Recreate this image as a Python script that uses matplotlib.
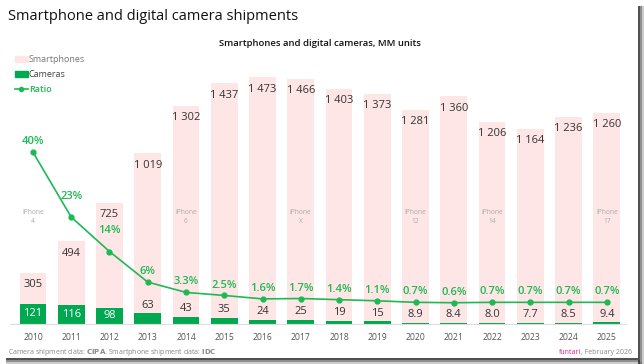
import matplotlib
matplotlib.use("Agg")
import matplotlib.pyplot as plt
from matplotlib.patches import Patch, Rectangle
from matplotlib.lines import Line2D
import numpy as np

plt.rcParams['font.family'] = ['Open Sans', 'DejaVu Sans']

years = ['2010', '2011', '2012', '2013', '2014', '2015', '2016', '2017',
         '2018', '2019', '2020', '2021', '2022', '2023', '2024', '2025']
smartphones = [305, 494, 725, 1019, 1302, 1437, 1473, 1466,
               1403, 1373, 1281, 1360, 1206, 1164, 1236, 1260]
cameras = [121, 116, 98, 63, 43, 35, 24, 25,
           19, 15, 8.9, 8.4, 8.0, 7.7, 8.5, 9.4]
camera_labels = ['121', '116', '98', '63', '43', '35', '24', '25',
                 '19', '15', '8.9', '8.4', '8.0', '7.7', '8.5', '9.4']
ratio = [40, 23, 14, 6, 3.3, 2.5, 1.6, 1.7, 1.4, 1.1, 0.7, 0.6, 0.7, 0.7, 0.7, 0.7]
ratio_labels = ['40%', '23%', '14%', '6%', '3.3%', '2.5%', '1.6%', '1.7%',
                '1.4%', '1.1%', '0.7%', '0.6%', '0.7%', '0.7%', '0.7%', '0.7%']
iphone_years = ['2010', '2014', '2017', '2020', '2022', '2025']
iphone_models = ['4', '6', 'X', '12', '14', '17']

PINK = '#FFE6E6'
GREEN = '#00A94F'
LGREEN = '#1DB954'

W, H = 644, 364
fig = plt.figure(figsize=(W / 100, H / 100), dpi=100)
fig.patch.set_facecolor('white')

ax = fig.add_axes([10 / W, (H - 324) / H, (626 - 10) / W, (324 - 57) / H])
x = np.arange(len(years))
ax.bar(x, smartphones, width=0.7, color=PINK, zorder=1)
ax.bar(x, cameras, width=0.7, color=GREEN, zorder=2)
ax.set_xlim(-0.6, len(years) - 0.5)
ax.set_ylim(0, 1595)
for s in ['top', 'right', 'left']:
    ax.spines[s].set_visible(False)
ax.spines['bottom'].set_color('#dddddd')
ax.spines['bottom'].set_linewidth(0.8)
ax.set_yticks([])
ax.set_xticks(x)
ax.set_xticklabels(years, fontsize=6.2, color='#555555')
ax.tick_params(axis='x', length=0, pad=6.5)

for i, v in enumerate(smartphones):
    ax.annotate(f"{v:,}".replace(',', ' '), (x[i], v), xytext=(0, -8.5),
                textcoords='offset points', ha='center', va='center',
                fontsize=8, color='#333333', zorder=5)
for i, v in enumerate(cameras):
    if v > 90:
        ax.annotate(camera_labels[i], (x[i], v / 2), ha='center', va='center',
                    fontsize=8, color='white', zorder=5)
    else:
        ax.annotate(camera_labels[i], (x[i], v), xytext=(0, 6),
                    textcoords='offset points', ha='center', va='center',
                    fontsize=8, color='#333333', zorder=5)

for yr, m in zip(iphone_years, iphone_models):
    i = years.index(yr)
    ax.text(x[i], 640, f"iPhone\n{m}", ha='center', va='center',
            fontsize=4.8, color='#aaaaaa', linespacing=1.3, zorder=5)

ax2 = ax.twinx()
ax2.set_ylim(-4.97, 64.9)
ax2.set_axis_off()
ax2.plot(x, ratio, color=LGREEN, lw=1.2, marker='o', ms=3.5, zorder=6)
for i, v in enumerate(ratio):
    off = 15 if i in (1, 2) else 7.5
    ax2.annotate(ratio_labels[i], (x[i], v), xytext=(0, off),
                 textcoords='offset points', ha='center', va='center',
                 fontsize=8, color=LGREEN, fontweight='semibold', zorder=7)

fig.text(8 / W, 1 - 16 / H, 'Smartphone and digital camera shipments',
         fontsize=10.5, color='#111111', va='center', ha='left')
fig.text(320 / W, 1 - 44 / H, 'Smartphones and digital cameras, MM units',
         fontsize=6.8, color='#111111', va='center', ha='center', fontweight='semibold')

handles = [Patch(color=PINK), Patch(color=GREEN),
           Line2D([0], [0], color=LGREEN, marker='o', ms=3, lw=1.2)]
leg = fig.legend(handles, ['Smartphones', 'Cameras', 'Ratio'],
                 loc='upper left', bbox_to_anchor=(15 / W, 1 - 55 / H),
                 frameon=False, fontsize=6.5, handlelength=1.4, handleheight=0.7,
                 handletextpad=0.15, labelspacing=0.68, borderpad=0, borderaxespad=0)
for t, c in zip(leg.get_texts(), ['#777777', '#444444', LGREEN]):
    t.set_color(c)
leg.get_texts()[2].set_fontweight('semibold')

fig.text(8 / W, 1 - 352 / H,
         r'Camera shipment data: $\bf{CIPA}$. Smartphone shipment data: $\bf{IDC}$',
         fontsize=5, color='#888888', va='center', ha='left')
t1 = fig.text(632 / W, 1 - 352 / H, ', February 2026', fontsize=5,
              color='#888888', va='center', ha='right')
fig.canvas.draw()
bb = t1.get_window_extent()
fig.text(bb.x0 / W, 1 - 352 / H, 'funtari', fontsize=5, color='#E0218A',
         va='center', ha='right')

# frame shadow
for k, a in enumerate([0.85, 0.55, 0.25]):
    fig.patches.append(Rectangle(((638 + k * 2) / W, 0), 2 / W, (H - 6) / H,
                                 transform=fig.transFigure, color='#333333',
                                 alpha=a, lw=0))
    fig.patches.append(Rectangle((6 / W, (4 - k * 2) / H), (632 + k * 2) / W, 2 / H,
                                 transform=fig.transFigure, color='#333333',
                                 alpha=a, lw=0))

fig.savefig('out.png', dpi=100)
